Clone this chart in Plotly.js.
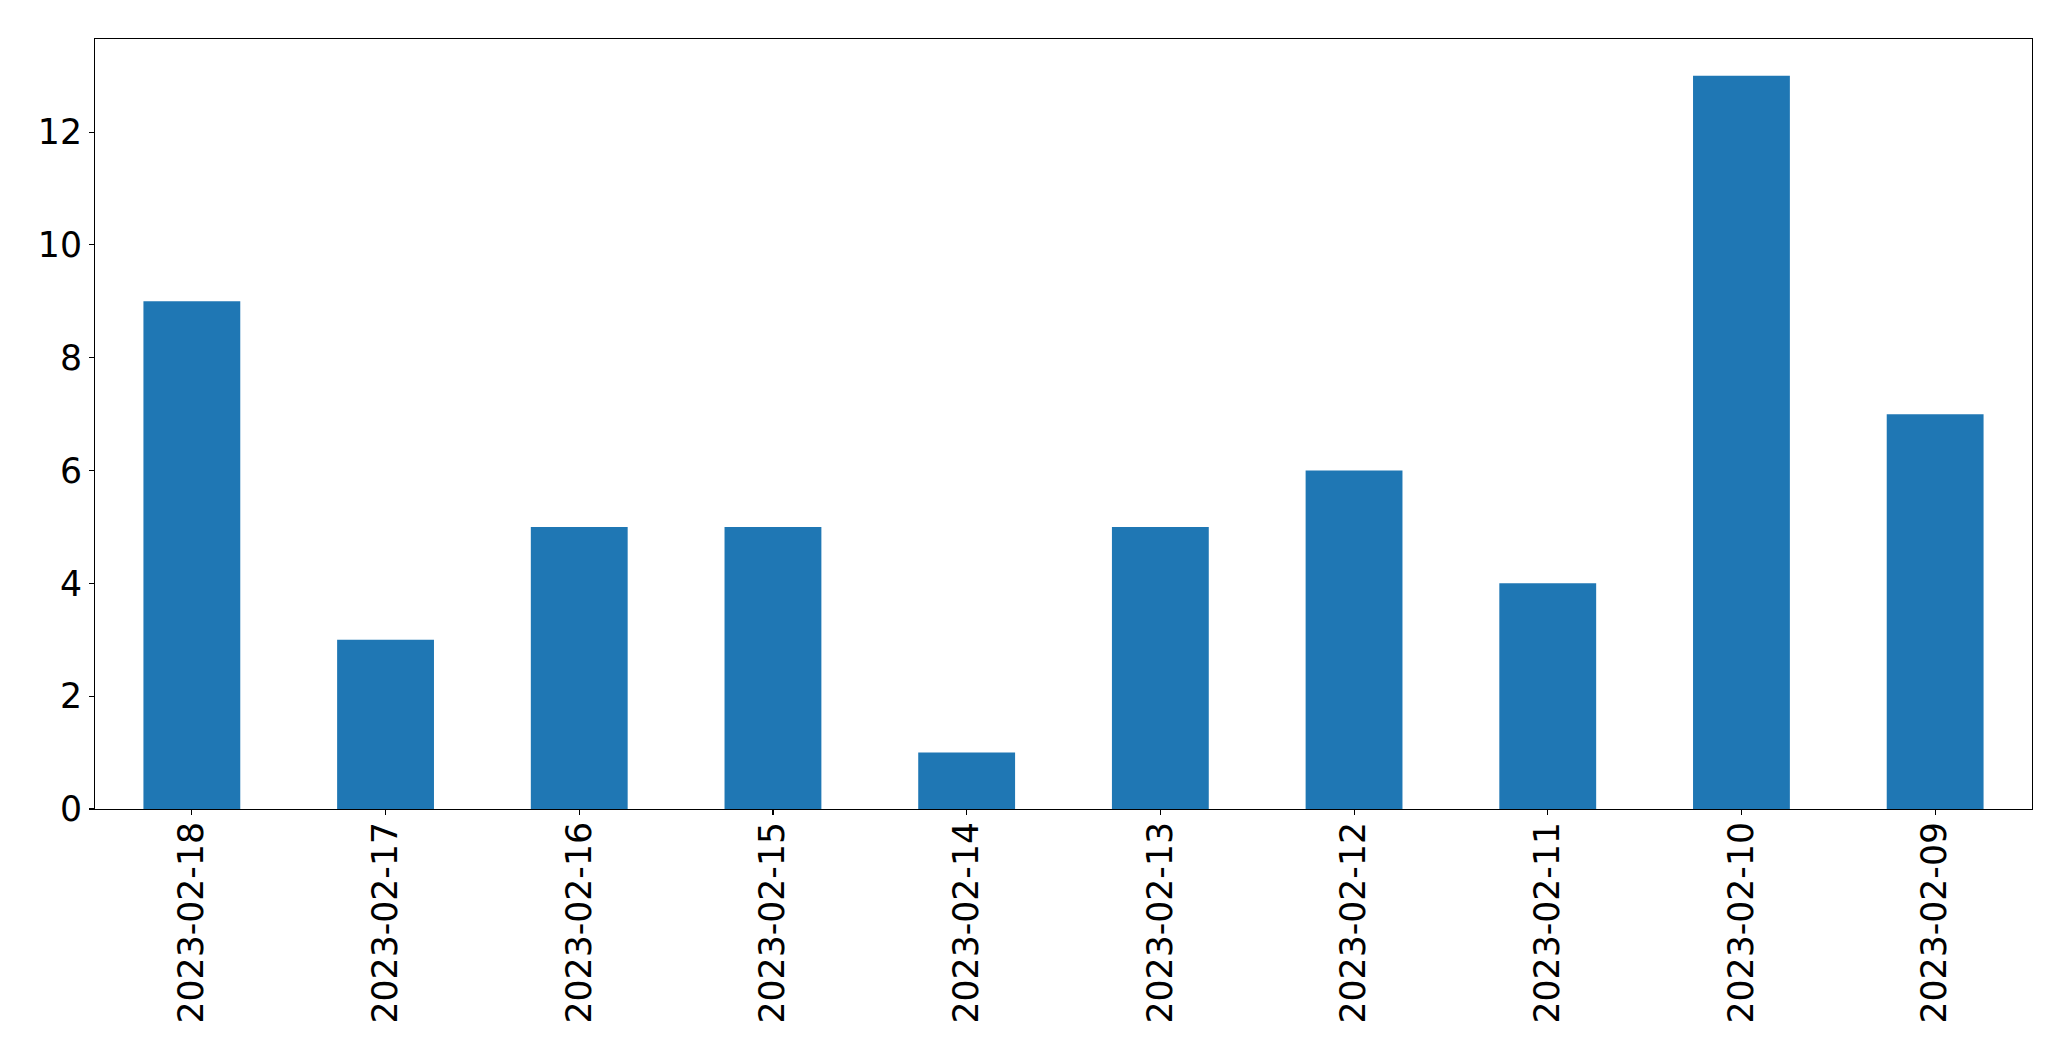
<!DOCTYPE html>
<html>
<head>
<meta charset="utf-8">
<script src="https://cdn.plot.ly/plotly-3.0.1.min.js"></script>
<style>html,body{margin:0;padding:0;background:#fff;}#chart{width:2071px;height:1061px;}</style>
</head>
<body>
<div id="chart"></div>
<script>
const dates = ["2023-02-18","2023-02-17","2023-02-16","2023-02-15","2023-02-14","2023-02-13","2023-02-12","2023-02-11","2023-02-10","2023-02-09"];
const counts = [9,3,5,5,1,5,6,4,13,7];
const yTicks = [0,2,4,6,8,10,12];

const trace = {
  type: "bar",
  x: dates,
  y: counts,
  width: 0.5,
  marker: {color: "#1f77b4", line: {width: 0}},
  hoverinfo: "x+y"
};

const layout = {
  width: 2071,
  height: 1061,
  margin: {l: 95, r: 39, t: 39, b: 252, pad: 0},
  paper_bgcolor: "#fff",
  plot_bgcolor: "#fff",
  font: {family: "DejaVu Sans", size: 34.7, color: "#000"},
  showlegend: false,
  xaxis: {
    type: "category",
    range: [-0.5, 9.5],
    tickangle: -90,
    ticks: "outside",
    ticklen: 5,
    tickwidth: 1.1,
    tickcolor: "#000",
    ticklabelstandoff: -7,
    showline: true,
    linecolor: "#000",
    linewidth: 1.1,
    mirror: true,
    showgrid: false,
    zeroline: false,
    automargin: false,
    tickfont: {family: "DejaVu Sans", size: 34.7, color: "#000"}
  },
  yaxis: {
    range: [0, 13.65],
    tickvals: yTicks,
    ticktext: yTicks.map(String),
    ticks: "outside",
    ticklen: 5,
    tickwidth: 1.1,
    tickcolor: "#000",
    showline: true,
    linecolor: "#000",
    linewidth: 1.1,
    mirror: true,
    showgrid: false,
    zeroline: false,
    automargin: false,
    tickfont: {family: "DejaVu Sans", size: 34.7, color: "#000"}
  }
};

Plotly.newPlot("chart", [trace], layout, {displayModeBar: false, staticPlot: true});
</script>
</body>
</html>
